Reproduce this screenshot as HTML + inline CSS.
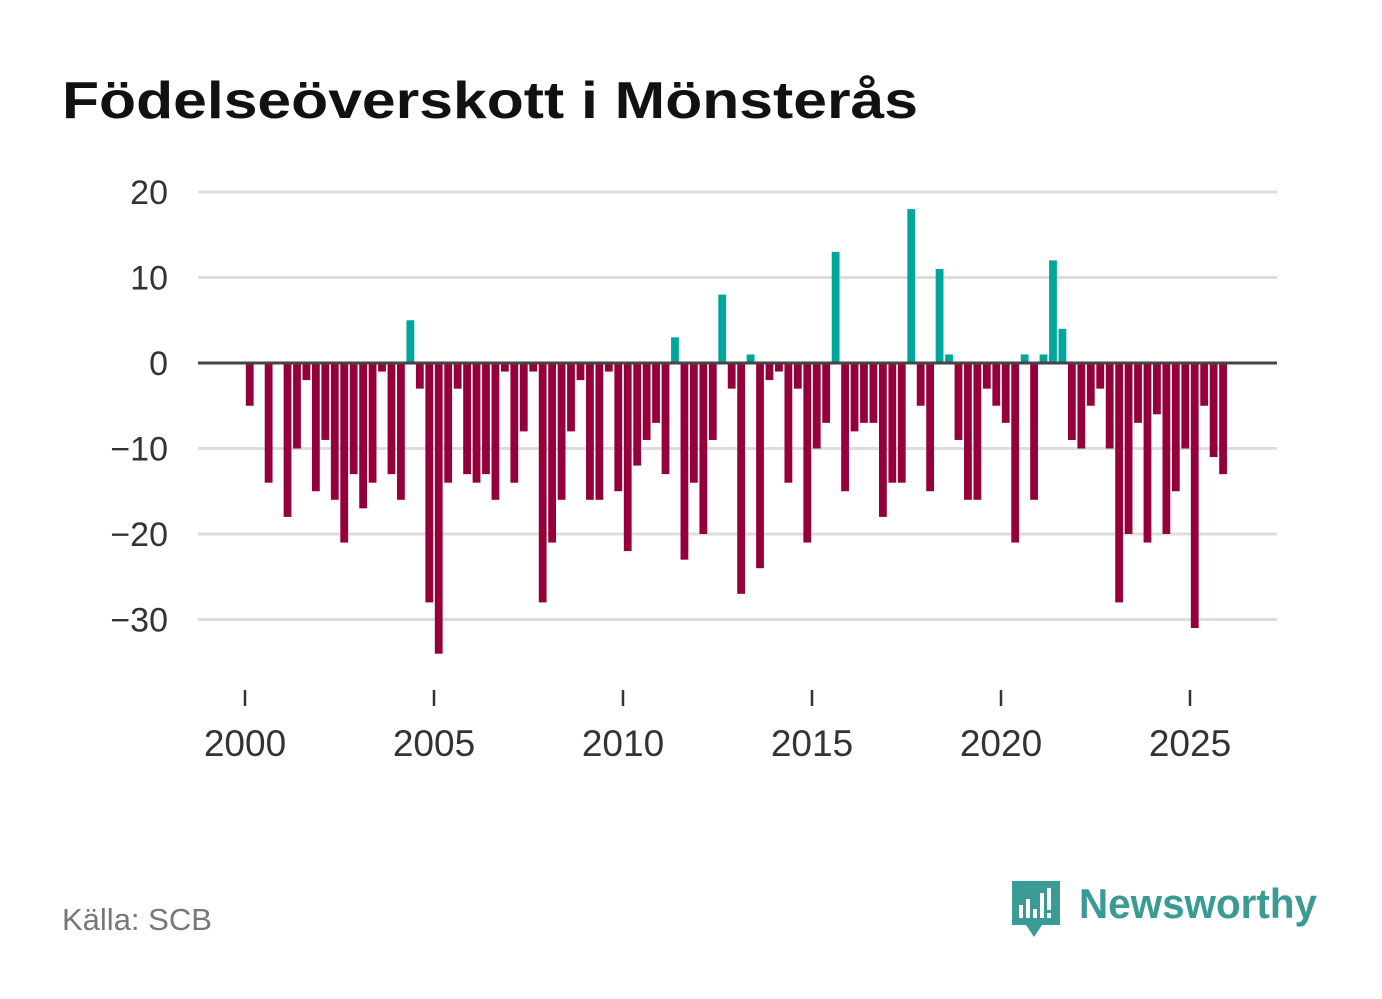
<!DOCTYPE html>
<html><head><meta charset="utf-8"><style>
html,body{margin:0;padding:0;background:#fff;}
svg{display:block;font-family:"Liberation Sans",sans-serif;}
</style></head><body>
<svg id="chart" width="1382" height="999" viewBox="0 0 1382 999">
<text x="62" y="118" font-size="52" font-weight="bold" fill="#111" textLength="856" lengthAdjust="spacingAndGlyphs">Födelseöverskott i Mönsterås</text>
<g id="grid"></g>
<g id="bars"></g>
<g id="xaxis"></g>
<text x="62" y="930" font-size="31" fill="#777">Källa: SCB</text>
<g>
<path d="M1012 881 h48 v44 h-18 l-8 12 l-8 -12 h-14 z" fill="#3a9a94"/>
<rect x="1019" y="905" width="4" height="13" fill="#fff"/>
<rect x="1026" y="899" width="4" height="19" fill="#fff"/>
<rect x="1033" y="909" width="4" height="9" fill="#fff"/>
<rect x="1040" y="893" width="4" height="25" fill="#fff"/>
<rect x="1047" y="888" width="4" height="22" fill="#fff"/>
<rect x="1047" y="913" width="4" height="5" fill="#fff"/>
<text x="1079" y="918" font-size="42" font-weight="bold" fill="#3a9a94" textLength="238" lengthAdjust="spacingAndGlyphs">Newsworthy</text>
</g>
</svg>
<script>
const values = [-5,0,-14,0,-18,-10,-2,-15,-9,-16,-21,-13,-17,-14,-1,-13,-16,5,-3,-28,-34,-14,-3,-13,-14,-13,-16,-1,-14,-8,-1,-28,-21,-16,-8,-2,-16,-16,-1,-15,-22,-12,-9,-7,-13,3,-23,-14,-20,-9,8,-3,-27,1,-24,-2,-1,-14,-3,-21,-10,-7,13,-15,-8,-7,-7,-18,-14,-14,18,-5,-15,11,1,-9,-16,-16,-3,-5,-7,-21,1,-16,1,12,4,-9,-10,-5,-3,-10,-28,-20,-7,-21,-6,-20,-15,-10,-31,-5,-11,-13];
const startYear = 2000;
const yTicks = [20,10,0,-10,-20,-30];
const xTicks = [2000,2005,2010,2015,2020,2025];
const NS="http://www.w3.org/2000/svg";
function x(year){return 245+(year-2000)*37.8;}
function y(v){return 363-v*8.55;}
function mk(tag,attrs,parent){const e=document.createElementNS(NS,tag);for(const k in attrs)e.setAttribute(k,attrs[k]);parent.appendChild(e);return e;}
const grid=document.getElementById('grid'),bars=document.getElementById('bars'),xa=document.getElementById('xaxis');
yTicks.forEach(t=>{
  if(t!==0){const l=mk('line',{x1:198,x2:1277,y1:y(t),y2:y(t),stroke:'#dddddd','stroke-width':3},grid);
  
  }
  const tx=mk('text',{x:168,y:y(t)+12,'font-size':34,fill:'#333','text-anchor':'end'},grid);
  tx.textContent=(t<0?'\u2212'+Math.abs(t):t);
  
  
});
values.forEach((v,i)=>{
  const c=x(startYear+(i+0.5)/4);
  const r=mk('rect',{x:c-3.9,width:7.8,y:Math.min(y(v),y(0)),height:Math.abs(y(v)-y(0)),fill:v>=0?'#00a59b':'#96003a'},bars);
  
  
});
const zl=mk('line',{x1:198,x2:1277,y1:y(0),y2:y(0),stroke:'#444','stroke-width':3},bars);


xTicks.forEach(t=>{
  const tk=mk('line',{x1:x(t),x2:x(t),y1:690,y2:706,stroke:'#333','stroke-width':2.5},xa);
  
  
  const tx=mk('text',{x:x(t),y:756,'font-size':37,fill:'#333','text-anchor':'middle'},xa);
  tx.textContent=t;
  
  
});
</script>
</body></html>
